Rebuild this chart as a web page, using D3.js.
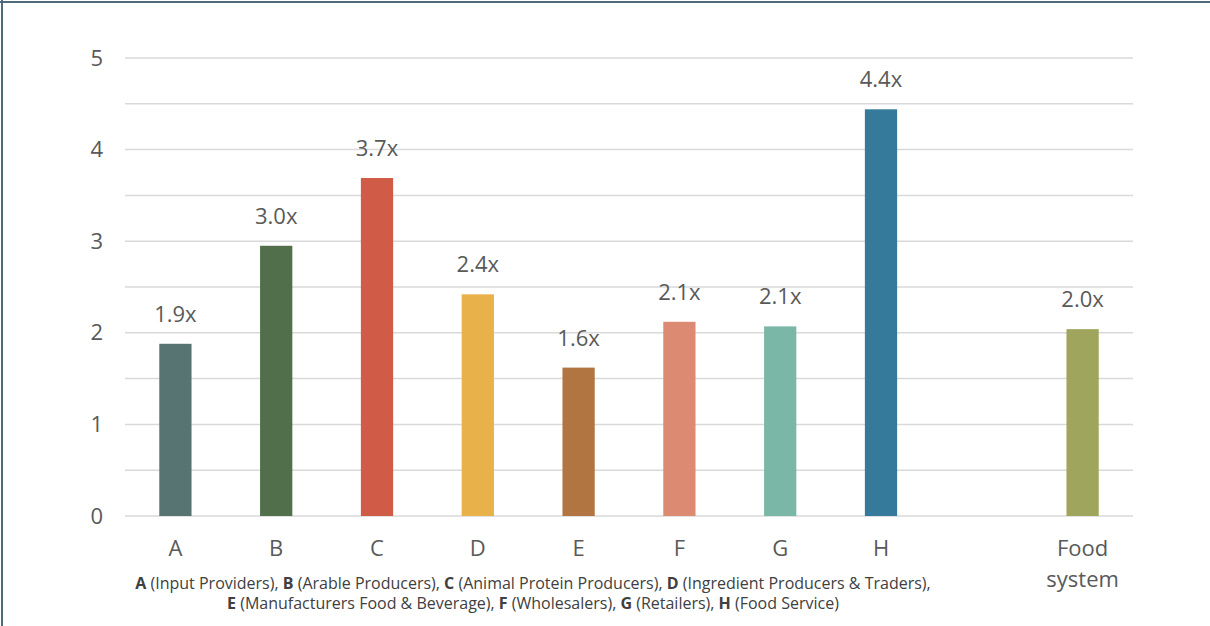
<!DOCTYPE html>
<html>
<head>
<meta charset="utf-8">
<script src="https://cdn.jsdelivr.net/npm/d3@7"></script>
<style>
  html, body { margin: 0; padding: 0; background: #fff; }
  svg { display: block; font-family: "Open Sans", "Noto Sans", sans-serif; }
</style>
</head>
<body>
<svg id="chart" width="1210" height="626"></svg>
<script>
const categories = ["A", "B", "C", "D", "E", "F", "G", "H", "", "Food system"];
const values = [1.88, 2.95, 3.69, 2.42, 1.62, 2.12, 2.07, 4.44, null, 2.04];
const valueLabels = ["1.9x", "3.0x", "3.7x", "2.4x", "1.6x", "2.1x", "2.1x", "4.4x", "", "2.0x"];
const colors = ["#587472", "#526f4b", "#d05b47", "#e9b149", "#b07540", "#dd8a73", "#7bb7a7", "#357a9a", "#ffffff", "#a0a55d"];
const yTicks = [0, 1, 2, 3, 4, 5];
const gridValues = [0, 0.5, 1, 1.5, 2, 2.5, 3, 3.5, 4, 4.5, 5];
const footnoteLines = [
  [["A", true], [" (Input Providers), ", false], ["B", true], [" (Arable Producers), ", false], ["C", true], [" (Animal Protein Producers), ", false], ["D", true], [" (Ingredient Producers & Traders),", false]],
  [["E", true], [" (Manufacturers Food & Beverage), ", false], ["F", true], [" (Wholesalers), ", false], ["G", true], [" (Retailers), ", false], ["H", true], [" (Food Service)", false]]
];

(function () {
const svg = d3.select("#chart");
const W = 1210, H = 626;
const mLeft = 125, mRight = 1133, mTop = 58, mBottom = 516;

// frame (left and top edges)
svg.append("line").attr("x1", 2).attr("x2", 2).attr("y1", 0).attr("y2", H)
  .attr("stroke", "#4d6b7b").attr("stroke-width", 2);
svg.append("line").attr("x1", 0).attr("x2", W).attr("y1", 2).attr("y2", 2)
  .attr("stroke", "#4d6b7b").attr("stroke-width", 2);

const x = d3.scaleBand().domain(categories.map((c, i) => i)).range([mLeft, mRight])
  .paddingInner(0.68).paddingOuter(0.34);
const y = d3.scaleLinear().domain([0, 5]).range([mBottom, mTop]);

// gridlines
svg.append("g").selectAll("line").data(gridValues).join("line")
  .attr("x1", mLeft).attr("x2", mRight)
  .attr("y1", d => y(d)).attr("y2", d => y(d))
  .attr("stroke", "#d9d9d9").attr("stroke-width", 1.5);

// y axis
const yAxis = d3.axisLeft(y).tickValues(yTicks).tickSize(0).tickPadding(0).tickFormat(d3.format("d"));
const gy = svg.append("g").attr("transform", `translate(${mLeft - 22},0)`).call(yAxis);
gy.select(".domain").remove();
gy.selectAll("text").attr("font-size", 22).attr("fill", "#595959")
  .attr("font-family", "'Open Sans', sans-serif");

// bars
const data = categories.map((c, i) => ({ c, i, v: values[i], label: valueLabels[i], color: colors[i] }))
  .filter(d => d.v !== null);

svg.append("g").selectAll("rect").data(data).join("rect")
  .attr("x", d => x(d.i)).attr("width", x.bandwidth())
  .attr("y", d => y(d.v)).attr("height", d => y(0) - y(d.v))
  .attr("fill", d => d.color);

// value labels
svg.append("g").selectAll("text").data(data).join("text")
  .attr("x", d => x(d.i) + x.bandwidth() / 2)
  .attr("y", d => y(d.v) - 22)
  .attr("text-anchor", "middle")
  .attr("font-size", 22).attr("fill", "#595959")
  .text(d => d.label);

// x axis labels
const xl = svg.append("g").selectAll("text").data(categories.map((c, i) => ({ c, i })).filter(d => d.c !== ""))
  .join("text")
  .attr("x", d => x(d.i) + x.bandwidth() / 2)
  .attr("y", 556)
  .attr("text-anchor", "middle")
  .attr("font-size", 22).attr("fill", "#595959");
xl.each(function(d) {
  const words = d.c.split(" ");
  const t = d3.select(this);
  words.forEach((w, k) => {
    t.append("tspan").attr("x", x(d.i) + x.bandwidth() / 2).attr("dy", k === 0 ? 0 : 31).text(w);
  });
});

// footnote
footnoteLines.forEach((parts, li) => {
  const t = svg.append("text")
    .attr("x", 533).attr("y", 589 + li * 20)
    .attr("text-anchor", "middle")
    .attr("font-size", 16).attr("fill", "#404040");
  parts.forEach(([s, b]) => {
    t.append("tspan").attr("font-weight", b ? 700 : 400).text(s);
  });
});
})();
</script>
</body>
</html>
